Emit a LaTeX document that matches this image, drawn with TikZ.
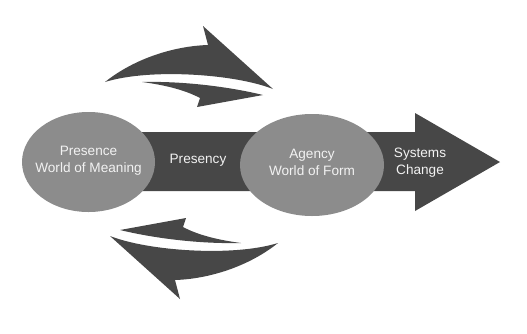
\documentclass[tikz,border=0pt]{standalone}
\usepackage{fontspec}
\setmainfont{Liberation Sans}
\usetikzlibrary{shapes.geometric}
\definecolor{darkarr}{HTML}{474747}
\definecolor{ellgray}{HTML}{8C8C8C}
\definecolor{txtlight}{HTML}{F2F2F2}
\begin{document}
\begin{tikzpicture}[x=1pt,y=-1pt,
  arr/.style={fill=darkarr,draw=none},
  blob/.style={ellipse,fill=ellgray,draw=none,inner sep=0pt},
  lbl/.style={text=txtlight,font=\fontsize{13.6}{17}\selectfont,align=center}]
\useasboundingbox (0,0) rectangle (527,333);
% main arrow
\fill[arr] (130,132) -- (415,132) -- (415,113) -- (500,162) -- (415,211) -- (415,191) -- (130,191) -- cycle;
% curved arrows (top) and rotated copy (bottom)
\foreach \ang in {0,180}{
\begin{scope}[rotate around={\ang:(191.5,162.5)}]
\fill[arr] (105,82) .. controls (135,58) and (175,46) .. (208,45) -- (203,26) -- (273,89)
  .. controls (235,74) and (150,68) .. (105,82) -- cycle;
\fill[arr] (142,82) .. controls (185,81) and (230,87) .. (263,95) -- (197,107) -- (200,98)
  .. controls (185,90) and (165,85) .. (142,82) -- cycle;
\end{scope}}
% ellipses
\node[blob,minimum width=133pt,minimum height=100pt] (left) at (88.5,162) {};
\node[blob,minimum width=144pt,minimum height=102pt] (right) at (312,165) {};
\node[lbl] (presence) at (88.5,161) {Presence\\World of Meaning};
\node[lbl] (presency) at (198,160) {Presency};
\node[lbl] (agency) at (312,162) {Agency\\World of Form};
\node[lbl] (systems) at (420,163) {Systems\\Change};
\end{tikzpicture}
\end{document}
